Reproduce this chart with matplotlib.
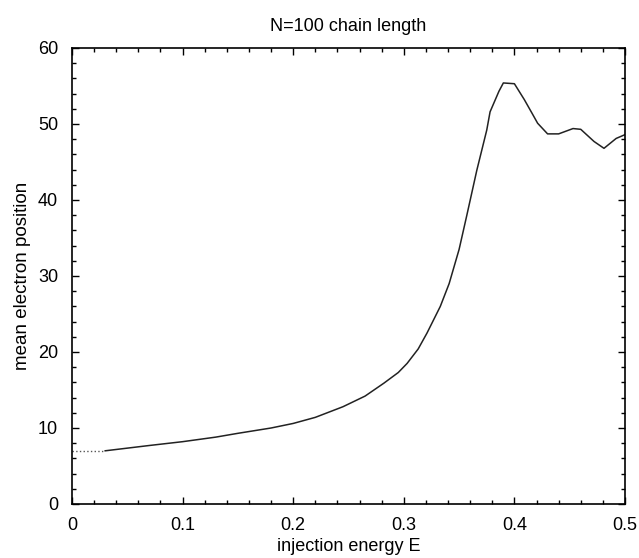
import matplotlib
matplotlib.use("Agg")
from matplotlib import pyplot as plt
from matplotlib.ticker import MultipleLocator, FuncFormatter

# mean electron position vs injection energy
energy = [0.03, 0.05, 0.07, 0.10, 0.13, 0.15, 0.18, 0.20, 0.22, 0.245,
          0.265, 0.282, 0.295, 0.303, 0.313, 0.321, 0.333, 0.341, 0.350, 0.357,
          0.366, 0.375, 0.378, 0.386, 0.390, 0.400, 0.409, 0.416, 0.421, 0.430,
          0.440, 0.453, 0.460, 0.472, 0.481, 0.492, 0.500]
position = [7.0, 7.35, 7.7, 8.2, 8.8, 9.3, 10.0, 10.6, 11.4, 12.8,
            14.2, 15.9, 17.3, 18.5, 20.4, 22.5, 26.0, 29.0, 33.5, 38.0,
            43.9, 49.2, 51.6, 54.3, 55.4, 55.3, 53.2, 51.4, 50.1, 48.7,
            48.7, 49.4, 49.3, 47.7, 46.8, 48.1, 48.6]

# dotted start of the curve
energy_start = [0.0, 0.03]
position_start = [7.0, 7.0]

plt.rcParams["font.family"] = ["Liberation Sans", "DejaVu Sans"]

fig = plt.figure(figsize=(6.39, 5.58), dpi=100)
ax = fig.add_axes([72 / 639, 54 / 558, 553 / 639, 456 / 558])

ax.plot(energy_start, position_start, color="#555555", linestyle=":", linewidth=1.0)
ax.plot(energy, position, color="#222222", linewidth=1.1)

ax.set_xlim(0, 0.5)
ax.set_ylim(0, 60)
ax.xaxis.set_major_locator(MultipleLocator(0.1))
ax.xaxis.set_minor_locator(MultipleLocator(0.02))
ax.yaxis.set_major_locator(MultipleLocator(10))
ax.yaxis.set_minor_locator(MultipleLocator(2))
ax.xaxis.set_major_formatter(FuncFormatter(lambda v, p: "0" if v == 0 else f"{v:.1f}"))
ax.tick_params(which="both", direction="in", top=True, right=True, labelsize=13, colors="black")
ax.tick_params(which="major", length=5, width=1)
ax.tick_params(which="minor", length=3, width=1)
ax.tick_params(axis="x", pad=9)
ax.tick_params(axis="y", pad=10)
for s in ax.spines.values():
    s.set_linewidth(1.2)

ax.set_title("N=100 chain length", fontsize=13, pad=12)
ax.set_xlabel("injection energy E", fontsize=13, labelpad=3)
ax.set_ylabel("mean electron position", fontsize=13.5, labelpad=5)

plt.savefig("out.png", dpi=100)
